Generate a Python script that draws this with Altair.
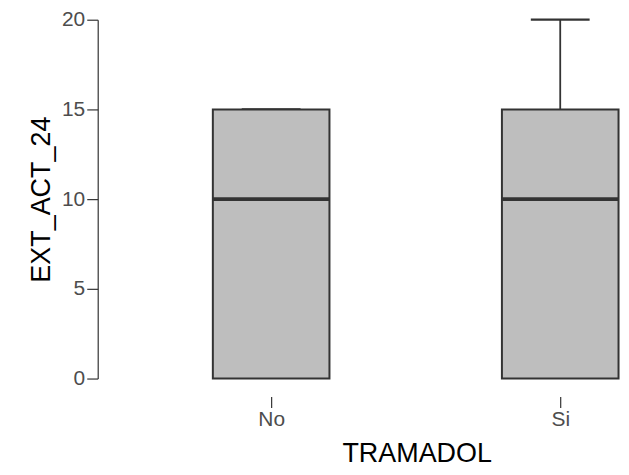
import altair as alt
import pandas as pd

categories = ["No", "Si"]
positions = [1, 2]
mins = [0, 0]
q1 = [0, 0]
medians = [10, 10]
q3 = [15, 15]
maxs = [15, 20]

df = pd.DataFrame({"TRAMADOL": categories, "pos": positions, "min": mins,
                   "q1": q1, "median": medians, "q3": q3, "max": maxs})

label_expr = "datum.value == 1 ? 'No' : (datum.value == 2 ? 'Si' : '')"
FONT = "Liberation Sans"

x = alt.X("pos:Q", scale=alt.Scale(domain=[0.4, 2.193], nice=False, zero=False, padding=0),
          axis=alt.Axis(values=[1, 2], labelExpr=label_expr, title="TRAMADOL",
                        domain=False, grid=False, offset=18, tickSize=11, tickWidth=1.2,
                        tickColor="#333333", labelColor="#4d4d4d", labelFontSize=21,
                        labelPadding=1, titleFontSize=27, titleFontWeight="normal",
                        titleColor="#000000", titleX=320, titleY=65,
                        titleBaseline="alphabetic", titleAlign="center",
                        labelFont=FONT, titleFont=FONT))
yscale = alt.Scale(domain=[0, 20], nice=False, padding=0)
yaxis = alt.Axis(values=[0, 5, 10, 15, 20], title="EXT_ACT_24", grid=False,
                 domainColor="#333333", domainWidth=1.2, tickColor="#333333",
                 tickSize=11, tickWidth=1.2,
                 labelColor="#4d4d4d", labelFontSize=21, labelPadding=2,
                 titleFontSize=27, titleFontWeight="normal", titleColor="#000000",
                 titleX=-56, titleY=180, titleAngle=270, titleAlign="center",
                 titleBaseline="middle", labelFont=FONT, titleFont=FONT)

base = alt.Chart(df)

whisk_low = base.mark_rule(color="#333333", strokeWidth=1.8).encode(
    x=x, y=alt.Y("min:Q", scale=yscale, axis=yaxis), y2="q1:Q")
whisk_high = base.mark_rule(color="#333333", strokeWidth=1.8).encode(
    x=x, y=alt.Y("q3:Q", scale=yscale, axis=yaxis), y2="max:Q")
cap = base.mark_tick(color="#333333", opacity=1, size=59, thickness=2.2,
                     orient="horizontal").encode(
    x=x, y=alt.Y("max:Q", scale=yscale, axis=yaxis))
box = base.mark_bar(size=117, fill="#bebebe", stroke="#333333", strokeWidth=2,
                    opacity=1).encode(
    x=x, y=alt.Y("q1:Q", scale=yscale, axis=yaxis), y2="q3:Q")
med = base.mark_tick(color="#333333", opacity=1, size=117, thickness=4,
                     orient="horizontal").encode(
    x=x, y=alt.Y("median:Q", scale=yscale, axis=yaxis))

chart = alt.layer(whisk_low, whisk_high, cap, box, med).properties(
    width=520, height=360,
    autosize=alt.AutoSizeParams(type="none"),
    padding={"left": 90, "top": 11, "right": 5, "bottom": 90},
).configure(background="white").configure_view(stroke=None)

chart.save("out.html", embed_options={"renderer": "svg", "actions": False})
